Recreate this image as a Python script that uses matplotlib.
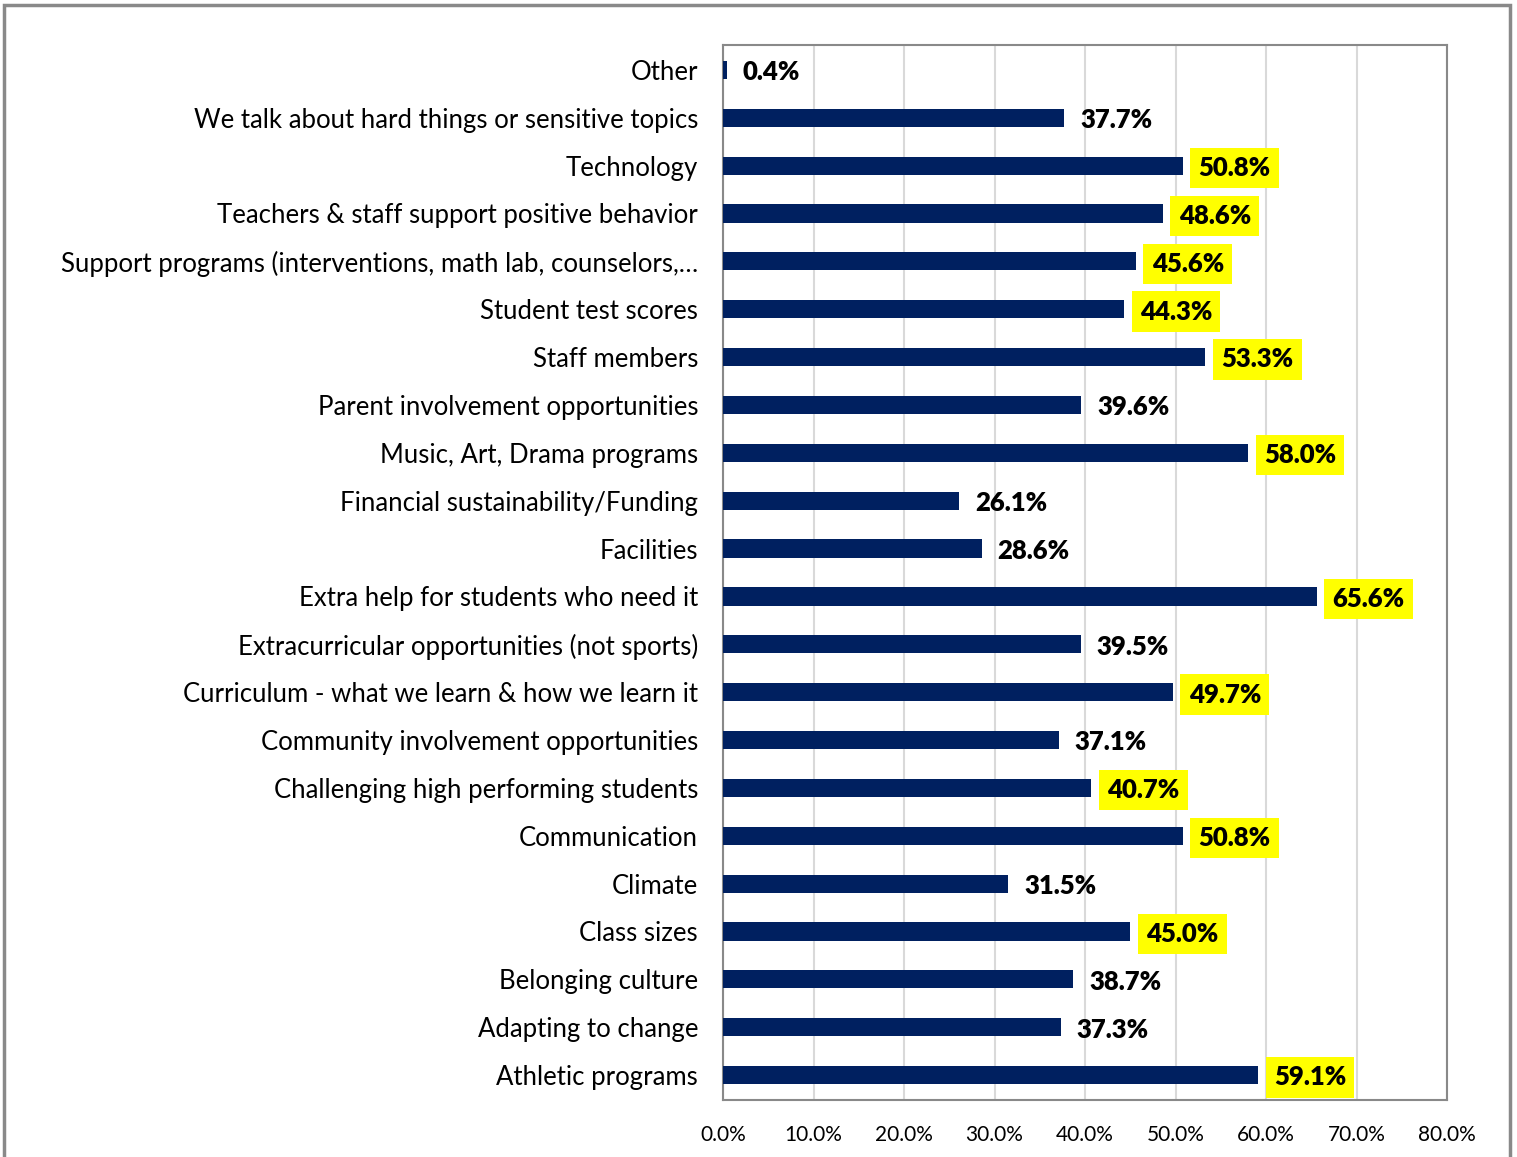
import matplotlib.pyplot as plt
import matplotlib.patches as patches
from matplotlib.ticker import FuncFormatter

plt.rcParams['font.family'] = ['Lato', 'DejaVu Sans']

categories = [
    "Other",
    "We talk about hard things or sensitive topics",
    "Technology",
    "Teachers & staff support positive behavior",
    "Support programs (interventions, math lab, counselors,\u2026",
    "Student test scores",
    "Staff members",
    "Parent involvement opportunities",
    "Music, Art, Drama programs",
    "Financial sustainability/Funding",
    "Facilities",
    "Extra help for students who need it",
    "Extracurricular opportunities (not sports)",
    "Curriculum - what we learn & how we learn it",
    "Community involvement opportunities",
    "Challenging high performing students",
    "Communication",
    "Climate",
    "Class sizes",
    "Belonging culture",
    "Adapting to change",
    "Athletic programs",
]
values = [0.4, 37.7, 50.8, 48.6, 45.6, 44.3, 53.3, 39.6, 58.0, 26.1, 28.6,
          65.6, 39.5, 49.7, 37.1, 40.7, 50.8, 31.5, 45.0, 38.7, 37.3, 59.1]
x_ticks = [0, 10, 20, 30, 40, 50, 60, 70, 80]
highlight_threshold = 40


def main():
    fig = plt.figure(figsize=(15.17, 11.57), dpi=100)
    ax = fig.add_axes([0.4766, 0.0493, 0.4773, 0.9118])

    # outer chart border (open at the bottom, like the cropped screenshot)
    fig.add_artist(patches.Rectangle((4 / 1517, -0.05), (1510 - 4) / 1517, 1.05 - 5 / 1157,
                                     transform=fig.transFigure, fill=False,
                                     edgecolor='#898989', linewidth=2.5))

    y = list(range(len(categories)))
    ax.barh(y, values, height=0.38, color='#002060', zorder=3)

    for yi, v in zip(y, values):
        label = f"{v:.1f}%"
        box = None
        if v >= highlight_threshold:
            box = dict(boxstyle='square,pad=0.32', facecolor='#ffff00', edgecolor='none')
        ax.text(v + 1.75, yi + 0.05, label, va='center', ha='left', fontsize=18.5,
                fontweight='heavy', color='black', zorder=4, bbox=box)

    ax.set_yticks(y)
    ax.set_yticklabels(categories, fontsize=18.5)
    ax.set_ylim(len(categories) - 0.48, -0.52)
    ax.set_xlim(0, 80)
    ax.set_xticks(x_ticks)
    ax.xaxis.set_major_formatter(FuncFormatter(lambda v, _: f"{v:.1f}%"))
    ax.tick_params(axis='x', labelsize=15, length=0, pad=18)
    ax.tick_params(axis='y', length=0, pad=18)
    ax.grid(axis='x', color='#d9d9d9', linewidth=1.5, zorder=0)
    ax.set_axisbelow(True)
    for spine in ax.spines.values():
        spine.set_color('#898989')
        spine.set_linewidth(1.5)

    plt.savefig('out.png', dpi=100)
    plt.close()


if __name__ == "__main__":
    main()
